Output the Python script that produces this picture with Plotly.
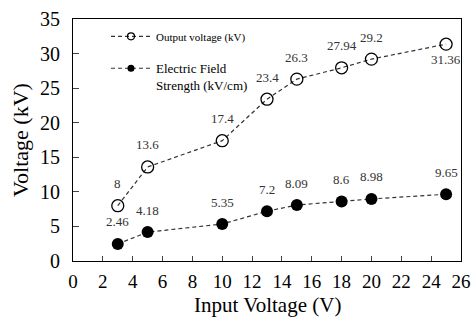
import plotly.graph_objects as go

input_v = [3, 5, 10, 13, 15, 18, 20, 25]
output_kv = [8, 13.6, 17.4, 23.4, 26.3, 27.94, 29.2, 31.36]
field_kvcm = [2.46, 4.18, 5.35, 7.2, 8.09, 8.6, 8.98, 9.65]
output_labels = ["8", "13.6", "17.4", "23.4", "26.3", "27.94", "29.2", "31.36"]
field_labels = ["2.46", "4.18", "5.35", "7.2", "8.09", "8.6", "8.98", "9.65"]
x_ticks = list(range(0, 27, 2))
y_ticks = list(range(0, 36, 5))
series_names = ["<span style='font-size:11px'>Output voltage (kV)</span>",
                "Electric Field<br>Strength (kV/cm)"]

FONT = "Liberation Serif, Times New Roman, serif"
LINE = dict(color="#333333", width=1.2, dash="4px,3px")

fig = go.Figure()
# data traces
fig.add_trace(go.Scatter(
    x=input_v, y=output_kv, mode="lines+markers", showlegend=False,
    line=LINE,
    marker=dict(symbol="circle-open", size=12, color="black", line=dict(width=1.3, color="black")),
))
fig.add_trace(go.Scatter(
    x=input_v, y=field_kvcm, mode="lines+markers", showlegend=False,
    line=LINE,
    marker=dict(symbol="circle", size=12, color="black"),
))
# legend entries (small markers like the reference)
fig.add_trace(go.Scatter(
    x=[None], y=[None], mode="lines+markers", name=series_names[0], legendgroup="a",
    line=LINE,
    marker=dict(symbol="circle-open", size=7, color="black", line=dict(width=1.2, color="black")),
))
fig.add_trace(go.Scatter(
    x=[None], y=[None], mode="lines+markers", name=series_names[1], legendgroup="b",
    line=LINE,
    marker=dict(symbol="circle", size=7, color="black"),
))

for xv, yv, t in zip(input_v, output_kv, output_labels):
    shift = -15 if t == "31.36" else 22
    fig.add_annotation(x=xv, y=yv, text=t, showarrow=False, yshift=shift,
                       font=dict(family=FONT, size=13, color="#333"))
for xv, yv, t in zip(input_v, field_kvcm, field_labels):
    fig.add_annotation(x=xv, y=yv, text=t, showarrow=False, yshift=22,
                       font=dict(family=FONT, size=13, color="#333"))

# axis titles
fig.add_annotation(text="Input Voltage (V)", xref="paper", yref="paper", x=0.5, y=0,
                   yshift=-44, showarrow=False, xanchor="center", yanchor="middle",
                   font=dict(family=FONT, size=21, color="black"))
fig.add_annotation(text="Voltage (kV)", xref="paper", yref="paper", x=0, y=0.5,
                   xshift=-53, showarrow=False, textangle=-90, xanchor="center", yanchor="middle",
                   font=dict(family=FONT, size=22, color="black"))

fig.update_layout(
    width=472, height=320,
    margin=dict(l=73, r=11, t=19, b=59),
    paper_bgcolor="white", plot_bgcolor="white",
    font=dict(family=FONT, color="black"),
    showlegend=True,
    legend=dict(x=0.085, y=0.99, xanchor="left", yanchor="top", valign="top",
                bgcolor="rgba(0,0,0,0)", font=dict(family=FONT, size=13),
                itemwidth=40, traceorder="grouped", tracegroupgap=12),
    xaxis=dict(range=[0, 26], tickvals=x_ticks, ticks="inside", ticklen=5,
               showline=True, linecolor="black", linewidth=1.2, mirror=True,
               showgrid=False, zeroline=False, automargin=False, ticklabelstandoff=3,
               ticklabeloverflow="allow",
               tickfont=dict(family=FONT, size=19)),
    yaxis=dict(range=[0, 35], tickvals=y_ticks, ticks="inside", ticklen=6,
               showline=True, linecolor="black", linewidth=1.2, mirror=True,
               showgrid=False, zeroline=False, automargin=False, ticklabelstandoff=8,
               tickfont=dict(family=FONT, size=20)),
)

fig.write_html("out.html", config={"displayModeBar": False},
               post_script="document.body.style.margin='0';document.body.style.overflow='hidden';")
